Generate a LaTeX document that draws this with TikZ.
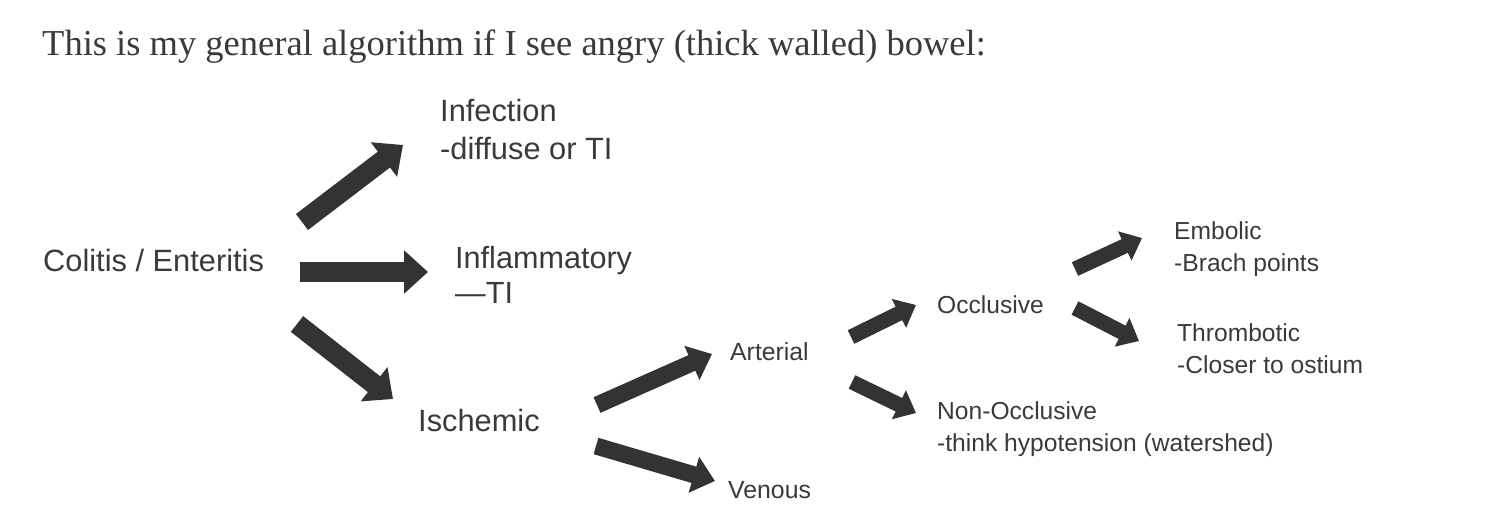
\documentclass[tikz,border=0pt]{standalone}
\usepackage{fontspec}
\setmainfont{Liberation Serif}
\setsansfont{Liberation Sans}
\usetikzlibrary{arrows.meta}
\definecolor{ink}{HTML}{3A3A3A}
\definecolor{arr}{HTML}{333333}
\tikzset{
  big/.style={draw=arr, line width=20pt, -{Triangle[length=24pt 0 0, width=42pt 0 0]}},
  mid/.style={draw=arr, line width=17pt, -{Triangle[length=22pt 0 0, width=36pt 0 0]}},
  small/.style={draw=arr, line width=15pt, -{Triangle[length=19pt 0 0, width=31pt 0 0]}},
  lbl/.style={anchor=west, inner sep=0pt, text=ink, font=\sffamily\fontsize{30.8}{38}\selectfont, align=left},
  lblm/.style={anchor=west, inner sep=0pt, text=ink, font=\sffamily\fontsize{24.8}{32}\selectfont, align=left},
  lbls/.style={anchor=west, inner sep=0pt, text=ink, font=\sffamily\fontsize{24.6}{31.5}\selectfont, align=left},
}
\begin{document}
\begin{tikzpicture}[x=1pt,y=-1pt]
\useasboundingbox[fill=white] (0,0) rectangle (1486,520);
\node[anchor=base west, inner sep=0pt, text=ink, font=\rmfamily\fontsize{36.5}{38}\selectfont] (title) at (42,55) {This is my general algorithm if I see angry (thick walled) bowel:};
\node[lbl] (colitis) at (43,260) {Colitis / Enteritis};
\node[lbl] (infection) at (440,129) {Infection\\-diffuse or TI};
\node[lbl, font=\sffamily\fontsize{30.6}{35}\selectfont] (inflam) at (455,275) {Inflammatory\\—TI};
\node[lbl] (isch) at (418,420) {Ischemic};
\node[lblm] (arterial) at (730,352) {Arterial};
\node[lblm] (venous) at (728,490) {Venous};
\node[lbls] (occl) at (937,305) {Occlusive};
\node[lbls] (nonoccl) at (937,429) {Non-Occlusive\\-think hypotension (watershed)};
\node[lbls] (embolic) at (1174,249) {Embolic\\-Brach points};
\node[lbls] (thromb) at (1177,348.5) {Thrombotic\\-Closer to ostium};
% arrow end points
\coordinate (a1s) at (302,222); \coordinate (a1e) at (403,145);
\coordinate (a2s) at (300,272); \coordinate (a2e) at (428,272);
\coordinate (a3s) at (297,324); \coordinate (a3e) at (393,399);
\coordinate (a4s) at (597,405); \coordinate (a4e) at (712,354);
\coordinate (a5s) at (596,446); \coordinate (a5e) at (715,481);
\coordinate (a6s) at (851,337); \coordinate (a6e) at (916,305);
\coordinate (a7s) at (852,382); \coordinate (a7e) at (916,413);
\coordinate (a8s) at (1075,269); \coordinate (a8e) at (1142,238);
\coordinate (a9s) at (1075,308); \coordinate (a9e) at (1139,341);
\draw[big] (a1s) -- (a1e);
\draw[big] (a2s) -- (a2e);
\draw[big] (a3s) -- (a3e);
\draw[mid] (a4s) -- (a4e);
\draw[mid] (a5s) -- (a5e);
\draw[small] (a6s) -- (a6e);
\draw[small] (a7s) -- (a7e);
\draw[small] (a8s) -- (a8e);
\draw[small] (a9s) -- (a9e);
\end{tikzpicture}
\end{document}
